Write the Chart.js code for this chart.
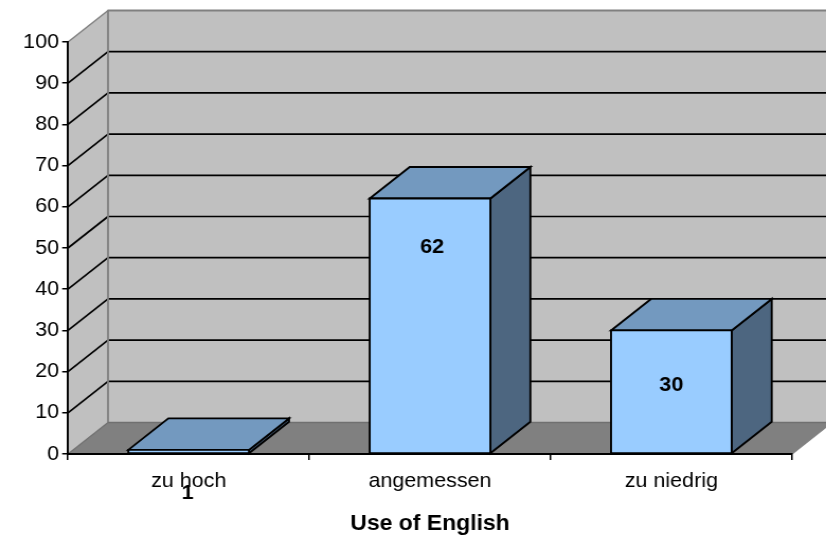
<!DOCTYPE html>
<html>
<head>
<meta charset="utf-8">
<script src="https://cdn.jsdelivr.net/npm/chart.js@4"></script>
<style>
html,body{margin:0;padding:0;background:#fff;overflow:hidden;width:826px;height:538px}
#wrap{width:780px;height:538px;transform:scaleX(1.059);transform-origin:0 0}
canvas{display:block}
</style>
</head>
<body>
<div id="wrap"><canvas id="c" width="780" height="538"></canvas></div>
<script>
const categories = ['zu hoch', 'angemessen', 'zu niedrig'];
const values = [1, 62, 30];
const labelDrop = [43.5, 49, 55];
const labelShift = [-1, 2, 0];
const axisTitle = 'Use of English';
const yMin = 0, yMax = 100, yStep = 10;

const FONT = '"Liberation Sans", Arial, sans-serif';
const DX = 37.8, DY = 31.5;
const WALL = '#c0c0c0', FLOOR = '#808080', EDGE = '#808080';
const FRONT = '#99ccff', TOP = '#7399bf', SIDE = '#4d6680';

function poly(ctx, pts, fill, stroke, lw) {
  ctx.beginPath();
  pts.forEach((p, i) => i ? ctx.lineTo(p[0], p[1]) : ctx.moveTo(p[0], p[1]));
  ctx.closePath();
  if (fill) { ctx.fillStyle = fill; ctx.fill(); }
  if (stroke) { ctx.strokeStyle = stroke; ctx.lineWidth = lw; ctx.lineJoin = 'miter'; ctx.stroke(); }
}
function line(ctx, x1, y1, x2, y2, color, lw) {
  ctx.beginPath(); ctx.moveTo(x1, y1); ctx.lineTo(x2, y2);
  ctx.strokeStyle = color; ctx.lineWidth = lw; ctx.stroke();
}

const walls = {
  id: 'walls',
  beforeDraw(chart) {
    const ctx = chart.ctx, a = chart.chartArea, y = chart.scales.y;
    const L = a.left, R = a.right, T = a.top, B = a.bottom;
    ctx.save();
    poly(ctx, [[L + DX, T - DY], [R + DX, T - DY], [R + DX, B - DY], [L + DX, B - DY]], WALL);
    poly(ctx, [[L, T], [L + DX, T - DY], [L + DX, B - DY], [L, B]], WALL);
    poly(ctx, [[L, B], [L + DX, B - DY], [R + DX, B - DY], [R, B]], FLOOR);
    y.ticks.forEach(t => {
      if (t.value === yMin || t.value === yMax) return;
      const py = y.getPixelForValue(t.value);
      line(ctx, L, py, L + DX, py - DY, '#000', 1.7);
      line(ctx, L + DX, py - DY, R + DX, py - DY, '#000', 1.7);
    });
    line(ctx, L, T, L + DX, T - DY, EDGE, 1.5);
    line(ctx, L + DX - 0.5, T - DY, R + DX, T - DY, EDGE, 2);
    line(ctx, L + DX, T - DY, L + DX, B - DY, EDGE, 1.8);
    line(ctx, L + DX, B - DY, R + DX, B - DY, '#707070', 1.5);
    line(ctx, L, B, L + DX, B - DY, '#707070', 1.2);
    line(ctx, R, B, R + DX, B - DY, '#808080', 1.2);
    ctx.restore();
  }
};

const boxes = {
  id: 'boxes',
  beforeDatasetsDraw(chart) {
    const ctx = chart.ctx;
    ctx.save();
    chart.getDatasetMeta(0).data.forEach(b => {
      const l = b.x - b.width / 2, r = b.x + b.width / 2, t = b.y, bt = b.base;
      poly(ctx, [[r, bt], [r + DX, bt - DY], [r + DX, t - DY], [r, t]], SIDE, '#000', 1.9);
      poly(ctx, [[l, t], [l + DX, t - DY], [r + DX, t - DY], [r, t]], TOP, '#000', 1.9);
    });
    ctx.restore();
  },
  afterDatasetsDraw(chart) {
    const ctx = chart.ctx;
    ctx.save();
    chart.getDatasetMeta(0).data.forEach((b, i) => {
      const l = b.x - b.width / 2, r = b.x + b.width / 2;
      poly(ctx, [[l, b.y], [r, b.y], [r, b.base], [l, b.base]], null, '#000', 1.9);
      ctx.fillStyle = '#000';
      ctx.font = 'bold 20.4px ' + FONT;
      ctx.textAlign = 'center';
      ctx.textBaseline = 'middle';
      ctx.fillText(String(values[i]), b.x + labelShift[i], b.y + labelDrop[i]);
    });
    ctx.restore();
  }
};

new Chart(document.getElementById('c'), {
  type: 'bar',
  data: {
    labels: categories,
    datasets: [{
      data: values,
      backgroundColor: FRONT,
      borderWidth: 0,
      barPercentage: 0.5,
      categoryPercentage: 1
    }]
  },
  options: {
    responsive: false,
    animation: false,
    devicePixelRatio: 1,
    layout: { padding: { left: 0, right: 32.1, top: 42, bottom: 0 } },
    plugins: { legend: { display: false }, title: { display: false }, tooltip: { enabled: false } },
    scales: {
      x: {
        afterFit(s) { s.height = 84; },
        grid: { drawOnChartArea: false, drawTicks: true, tickLength: 6, color: '#000', lineWidth: 1.5 },
        border: { color: '#000', width: 2 },
        ticks: { color: '#000', font: { family: FONT, size: 20.3 }, padding: 9, maxRotation: 0 },
        title: { display: true, text: axisTitle, color: '#000', font: { family: FONT, size: 21.7, weight: 'bold' }, padding: { top: 10, bottom: 1 } }
      },
      y: {
        min: yMin, max: yMax,
        afterFit(s) { s.width = 64.2; },
        grid: { drawOnChartArea: false, drawTicks: true, tickLength: 5.5, color: '#000', lineWidth: 1.5 },
        border: { color: '#000', width: 1.9 },
        ticks: { stepSize: yStep, color: '#000', font: { family: FONT, size: 20.3 }, padding: 3 }
      }
    }
  },
  plugins: [walls, boxes]
});
</script>
</body>
</html>
